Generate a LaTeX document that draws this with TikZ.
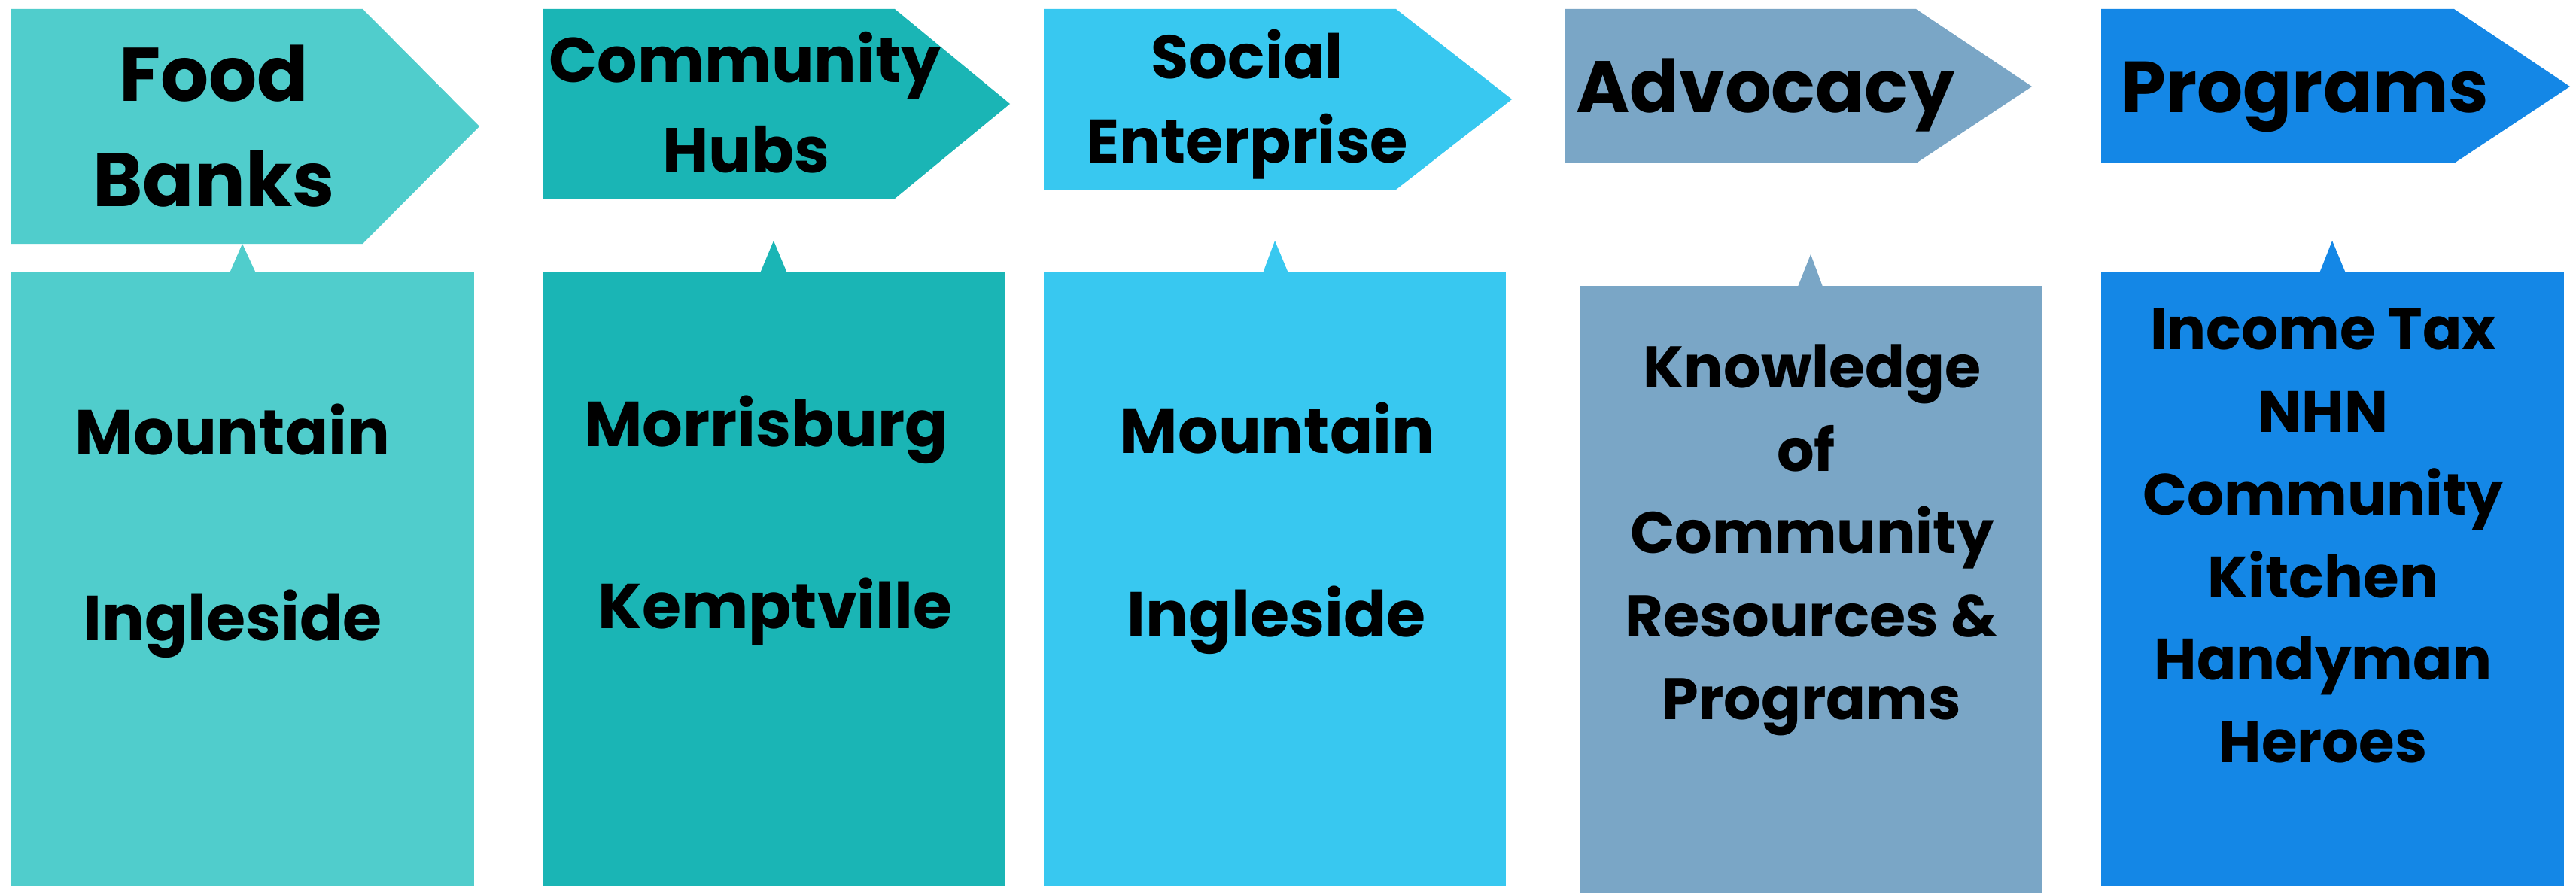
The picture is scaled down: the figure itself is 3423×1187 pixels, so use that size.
\documentclass[tikz,border=0pt]{standalone}
\usepackage{fontspec}
\setmainfont{Poppins}
\definecolor{cA}{HTML}{50CDCC}
\definecolor{cB}{HTML}{1AB5B5}
\definecolor{cC}{HTML}{38C8F0}
\definecolor{cD}{HTML}{7AA6C6}
\definecolor{cE}{HTML}{1487E6}
\tikzset{
  txt/.style={anchor=base, inner sep=0pt, font=\bfseries\fontsize{#1}{#1}\selectfont, text=black},
}
\begin{document}
\begin{tikzpicture}[x=0.25pt,y=-0.25pt]
\useasboundingbox (0,0) rectangle (3423,1187);
\fill[white] (0,0) rectangle (3423,1187);
% headers
\fill[cA] (15,12) -- (482,12) -- (637,168) -- (482,324) -- (15,324) -- cycle;
\fill[cB] (721,12) -- (1189,12) -- (1342,138) -- (1189,264) -- (721,264) -- cycle;
\fill[cC] (1387,12) -- (1855,12) -- (2009,132) -- (1855,252) -- (1387,252) -- cycle;
\fill[cD] (2079,12) -- (2546,12) -- (2700,115) -- (2546,217) -- (2079,217) -- cycle;
\fill[cE] (2792,12) -- (3261,12) -- (3415,115) -- (3261,217) -- (2792,217) -- cycle;
% bodies
\fill[cA] (15,362) rectangle (630,1178);
\fill[cB] (721,362) rectangle (1335,1178);
\fill[cC] (1387,362) rectangle (2001,1178);
\fill[cD] (2099,380) rectangle (2714,1187);
\fill[cE] (2792,362) rectangle (3407,1178);
% pointers
\fill[cA] (322,324) -- (340,363) -- (305,363) -- cycle;
\fill[cB] (1028,320) -- (1046,363) -- (1010,363) -- cycle;
\fill[cC] (1694,320) -- (1712,363) -- (1678,363) -- cycle;
\fill[cD] (2406,338) -- (2422,381) -- (2389,381) -- cycle;
\fill[cE] (3099,320) -- (3117,363) -- (3082,363) -- cycle;
% header texts
\node[txt=25.2] (h1a) at (284,135) {Food};
\node[txt=25.2] (h1b) at (284,274) {Banks};
\node[txt=21] (h2a) at (990,110) {Community};
\node[txt=21] (h2b) at (991,229) {Hubs};
\node[txt=20.4] (h3a) at (1657,105) {Social};
\node[txt=20.4] (h3b) at (1657,217) {Enterprise};
\node[txt=24.2] (h4) at (2346,150) {Advocacy};
\node[txt=24] (h5) at (3063,150) {Programs};
% body texts
\node[txt=21.1] (b1a) at (309,604) {Mountain};
\node[txt=21.1] (b1b) at (309,851) {Ingleside};
\node[txt=21.1] (b2a) at (1018,593) {Morrisburg};
\node[txt=21.1] (b2b) at (1030,835) {Kemptville};
\node[txt=21.1] (b3a) at (1697,602) {Mountain};
\node[txt=21.1] (b3b) at (1696,846) {Ingleside};
\node[txt=19.5] (b4a) at (2408,515) {Knowledge};
\node[txt=19.5] (b4b) at (2400,626) {of};
\node[txt=19.5] (b4c) at (2408,735) {Community};
\node[txt=19.5] (b4d) at (2407,846) {Resources \&};
\node[txt=19.5] (b4e) at (2407,956) {Programs};
\node[txt=19.3] (b5a) at (3087,464) {Income Tax};
\node[txt=19.3] (b5b) at (3087,574) {NHN};
\node[txt=19.3] (b5c) at (3087,684) {Community};
\node[txt=19.3] (b5d) at (3087,794) {Kitchen};
\node[txt=19.3] (b5e) at (3087,903) {Handyman};
\node[txt=19.3] (b5f) at (3087,1013) {Heroes};
\end{tikzpicture}
\end{document}
